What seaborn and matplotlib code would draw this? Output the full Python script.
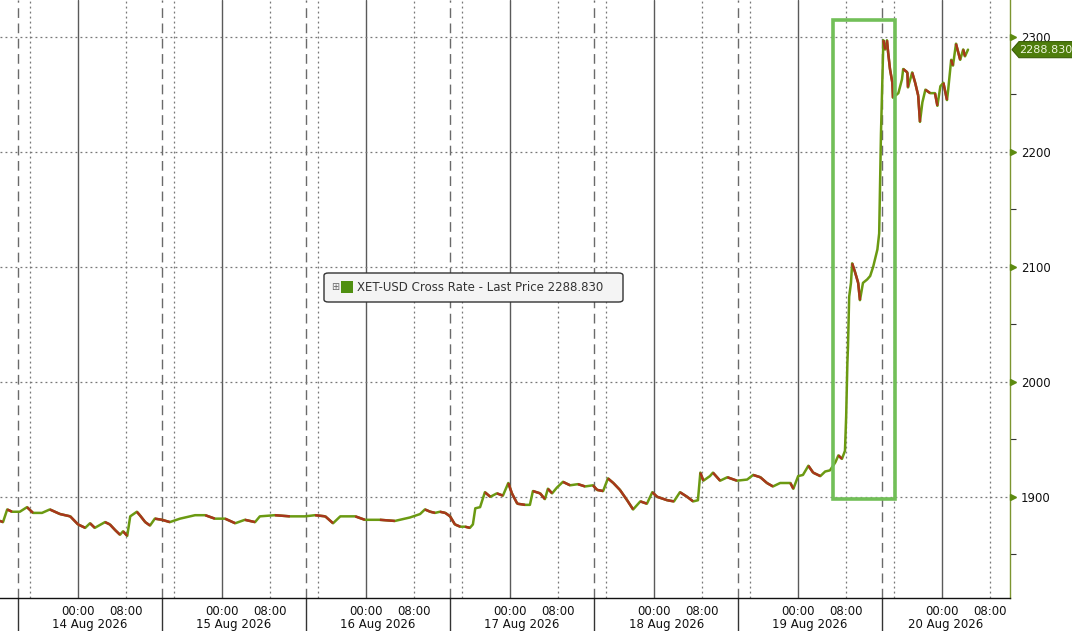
import matplotlib
matplotlib.use("Agg")
import matplotlib.pyplot as plt
import matplotlib.dates as mdates
import matplotlib.transforms as mtransforms
from matplotlib.collections import LineCollection
from matplotlib.patches import Rectangle, FancyBboxPatch, Polygon
import numpy as np
import pandas as pd
import seaborn as sns

# hours after 14 Aug 2026 00:00, and XET-USD price
hours = [-13.0, -12.5, -11.8, -11.0, -9.7, -8.5, -7.5, -6.0, -4.7, -3.0, -1.3, 0.0,
         1.2, 2.0, 2.8, 4.5, 5.3, 6.2, 7.0, 7.5, 8.2, 8.7, 9.8, 10.3, 11.2, 12.0,
         12.8, 14.0, 15.3, 17.0, 19.5, 21.2, 22.8, 24.5, 26.2, 27.8, 29.5, 30.3,
         32.8, 35.3, 37.8, 39.5, 41.2, 42.5, 43.7, 46.2, 47.8, 50.3, 52.8, 55.3,
         57.0, 57.8, 58.7, 59.5, 60.3, 61.2, 62.0, 62.8, 63.7, 64.5, 65.3, 65.8,
         66.2, 67.0, 67.8, 68.7, 69.8, 70.8, 71.7, 72.3, 73.2, 74.5, 75.3, 75.8,
         77.0, 77.8, 78.3, 79.0, 79.8, 80.8, 82.0, 83.3, 84.5, 85.8, 86.5, 87.5,
         88.3, 89.2, 90.3, 91.5, 92.5, 93.7, 94.8, 95.7, 96.5, 98.2, 99.3, 100.3,
         101.5, 102.5, 103.3, 103.7, 104.2, 105.3, 105.8, 107.0, 108.2, 109.8,
         111.5, 112.5, 113.7, 114.8, 115.8, 117.0, 118.7, 119.2, 120.0, 120.8,
         121.7, 122.5, 123.7, 124.5, 125.3, 126.2, 126.7, 127.3, 127.8, 128.0,
         128.2, 128.3, 128.5, 128.8, 129.0, 129.5, 130.0, 130.3, 130.8, 131.5,
         132.0, 132.5, 133.2, 133.5, 133.8, 134.0, 134.2, 134.5, 134.8, 135.0,
         135.3, 135.7, 135.8, 136.7, 137.3, 137.5, 138.2, 138.3, 139.0, 139.5,
         140.0, 140.3, 140.7, 141.2, 142.0, 142.8, 143.2, 143.7, 144.2, 144.8,
         145.0, 145.5, 145.8, 146.3, 146.7, 147.0, 147.5, 147.8, 148.3]
price = [1879, 1878, 1889, 1887, 1887, 1891, 1886, 1886, 1889, 1885, 1883, 1876,
         1873, 1877, 1873, 1878, 1876, 1871, 1867, 1870, 1866, 1883, 1887, 1884,
         1878, 1875, 1881, 1880, 1878, 1881, 1884, 1884, 1881, 1881, 1877, 1880,
         1878, 1883, 1884, 1883, 1883, 1884, 1883, 1877, 1883, 1883, 1880, 1880,
         1879, 1882, 1885, 1889, 1887, 1886, 1887, 1886, 1883, 1876, 1874, 1874,
         1873, 1876, 1890, 1891, 1904, 1900, 1903, 1901, 1912, 1903, 1894, 1893,
         1893, 1905, 1903, 1898, 1907, 1903, 1908, 1913, 1910, 1911, 1909, 1910,
         1906, 1905, 1916, 1912, 1906, 1897, 1889, 1896, 1894, 1904, 1900, 1897,
         1896, 1904, 1900, 1896, 1897, 1921, 1914, 1918, 1921, 1914, 1917, 1914,
         1915, 1919, 1917, 1912, 1909, 1912, 1912, 1907, 1918, 1919, 1927, 1921,
         1918, 1922, 1923, 1930, 1936, 1933, 1940, 1970, 2016, 2030, 2074, 2086,
         2103, 2095, 2086, 2071, 2086, 2089, 2092, 2100, 2115, 2129, 2216, 2257,
         2297, 2289, 2297, 2286, 2272, 2260, 2247, 2251, 2263, 2272, 2269, 2256,
         2269, 2260, 2249, 2226, 2243, 2254, 2251, 2251, 2240, 2257, 2260, 2245,
         2254, 2280, 2275, 2294, 2286, 2280, 2289, 2283, 2288.83]
last_price = 2288.83
y_ticks = [1900, 2000, 2100, 2200, 2300]
day_labels = ["14 Aug 2026", "15 Aug 2026", "16 Aug 2026", "17 Aug 2026",
              "18 Aug 2026", "19 Aug 2026", "20 Aug 2026"]
legend_label = "XET-USD Cross Rate - Last Price 2288.830"
box_hours = (125.8, 136.2)
box_prices = (1898.3, 2314.8)

base = pd.Timestamp("2026-08-14 00:00")
df = pd.DataFrame({"time": base + pd.to_timedelta(hours, unit="h"), "price": price})

UP = "#6b9a12"
DOWN = "#a8361c"

sns.set_style("white")
plt.rcParams["font.family"] = ["DejaVu Sans"]

W, H = 1072, 631
fig = plt.figure(figsize=(W / 100, H / 100), dpi=100)
ax = fig.add_axes([0, 33 / H, 1010 / W, 598 / H])

x_start = base - pd.Timedelta(hours=13)
x_end = base + pd.Timedelta(hours=155.3)
ax.set_xlim(x_start, x_end)
ax.set_ylim(1812, 2332)

# grid: solid at midnight, dotted at 08:00/16:00, dashed at 14:00
for d in range(-1, 7):
    day = base + pd.Timedelta(days=d)
    ax.axvline(day, color="#5a5a5a", lw=1.0, zorder=1)
    for hh in (8, 16):
        ax.axvline(day + pd.Timedelta(hours=hh), color="#777777", lw=0.9,
                   ls=(0, (1.5, 2.5)), zorder=1)
    ax.axvline(day + pd.Timedelta(hours=14), color="#6a6a6a", lw=1.0,
               ls=(0, (7, 4)), zorder=1)
for yv in y_ticks:
    ax.axhline(yv, color="#777777", lw=0.9, ls=(0, (1.5, 2.5)), zorder=1)

# price line: green base, red on falling segments
sns.lineplot(data=df, x="time", y="price", ax=ax, color=UP, lw=1.8, zorder=3)
xn = mdates.date2num(df["time"])
pts = np.column_stack([xn, df["price"].values])
segs = np.stack([pts[:-1], pts[1:]], axis=1)
falling = np.diff(df["price"].values) < 0
ax.add_collection(LineCollection(segs[falling], colors=DOWN, lw=1.8, zorder=4))

# highlight box
bx0 = mdates.date2num(base + pd.Timedelta(hours=box_hours[0]))
bx1 = mdates.date2num(base + pd.Timedelta(hours=box_hours[1]))
ax.add_patch(Rectangle((bx0, box_prices[0]), bx1 - bx0, box_prices[1] - box_prices[0],
                       fill=False, ec="#72bf58", lw=2.6, zorder=5))

ax.set_xlabel("")
ax.set_ylabel("")

# x ticks
majors, labels, minors = [], [], []
for d in range(-1, 7):
    day = base + pd.Timedelta(days=d)
    for hh in (0, 8):
        t = day + pd.Timedelta(hours=hh)
        if x_start <= t <= x_end:
            majors.append(t)
            labels.append(t.strftime("%H:%M"))
    for hh in range(0, 24, 4):
        t = day + pd.Timedelta(hours=hh)
        if x_start <= t <= x_end:
            minors.append(t)
ax.set_xticks(majors)
ax.set_xticklabels(labels)
ax.set_xticks(minors, minor=True)
ax.tick_params(axis="x", which="major", length=3, width=1, color="#222222",
               labelsize=8.5, pad=2, labelcolor="#111111")
ax.tick_params(axis="x", which="minor", length=3, width=0.8, color="#444444")

# day labels and separators
blend = mtransforms.blended_transform_factory(ax.transData, ax.transAxes)
seps = [base + pd.Timedelta(days=d, hours=14) for d in range(-1, 6)]
for s in seps:
    ax.plot([s, s], [0, -0.06], color="#333333", lw=1.0, transform=blend, clip_on=False)
edges = seps + [x_end]
for i, lab in enumerate(day_labels):
    mid = edges[i] + (edges[i + 1] - edges[i]) / 2
    ax.text(mid, -0.044, lab, transform=blend, ha="center", va="center",
            fontsize=8.5, color="#111111")

# y axis on the right
ax.yaxis.tick_right()
ax.set_yticks(y_ticks)
ax.set_yticks([1850, 1950, 2050, 2150, 2250], minor=True)
ax.tick_params(axis="y", which="major", length=0, labelsize=8.5, pad=8,
               labelcolor="#111111")
ax.tick_params(axis="y", which="minor", length=4, width=0.8, color="#333333")
yblend = mtransforms.blended_transform_factory(ax.transAxes, ax.transData)
ax.plot([1.003] * len(y_ticks), y_ticks, ls="none", marker=">", ms=5, color="#5d8a10",
        transform=yblend, clip_on=False, zorder=6)

for side in ("top", "left"):
    ax.spines[side].set_visible(False)
ax.spines["right"].set_color("#7c9530")
ax.spines["right"].set_linewidth(1.0)
ax.spines["bottom"].set_color("#111111")
ax.spines["bottom"].set_linewidth(1.0)

# last price tag
hh = 7.0
tag = Polygon([(1012 / 1010, last_price), (1019 / 1010, last_price + hh),
               (1075 / 1010, last_price + hh), (1075 / 1010, last_price - hh),
               (1019 / 1010, last_price - hh)], closed=True, fc="#4e7d0c", ec="#3a5f06",
              lw=0.8, transform=yblend, clip_on=False, zorder=8)
ax.add_patch(tag)
ax.text(1019 / 1010, last_price, "2288.830", transform=yblend, ha="left", va="center",
        fontsize=8, color="#eef6dc", zorder=9, clip_on=False)

# legend box
fx = lambda px: px / W
fy = lambda py: 1 - py / H
fig.patches.append(FancyBboxPatch((fx(324), fy(302)), fx(623) - fx(324), fy(273) - fy(302),
                                  boxstyle="round,pad=0,rounding_size=0.004",
                                  transform=fig.transFigure, fc="#f4f4f4", ec="#333333",
                                  lw=1.0, zorder=10))
fig.text(fx(335), fy(287.5), "\u229e", fontsize=7, color="#666666", ha="center",
         va="center", zorder=11)
fig.patches.append(Rectangle((fx(341), fy(293)), fx(12), 12 / H, transform=fig.transFigure,
                             fc="#4f8f10", ec="none", zorder=11))
fig.text(fx(357), fy(287.5), legend_label, fontsize=8.5, color="#333333", ha="left",
         va="center", zorder=11)

fig.savefig("out.png", dpi=100, facecolor="white")
